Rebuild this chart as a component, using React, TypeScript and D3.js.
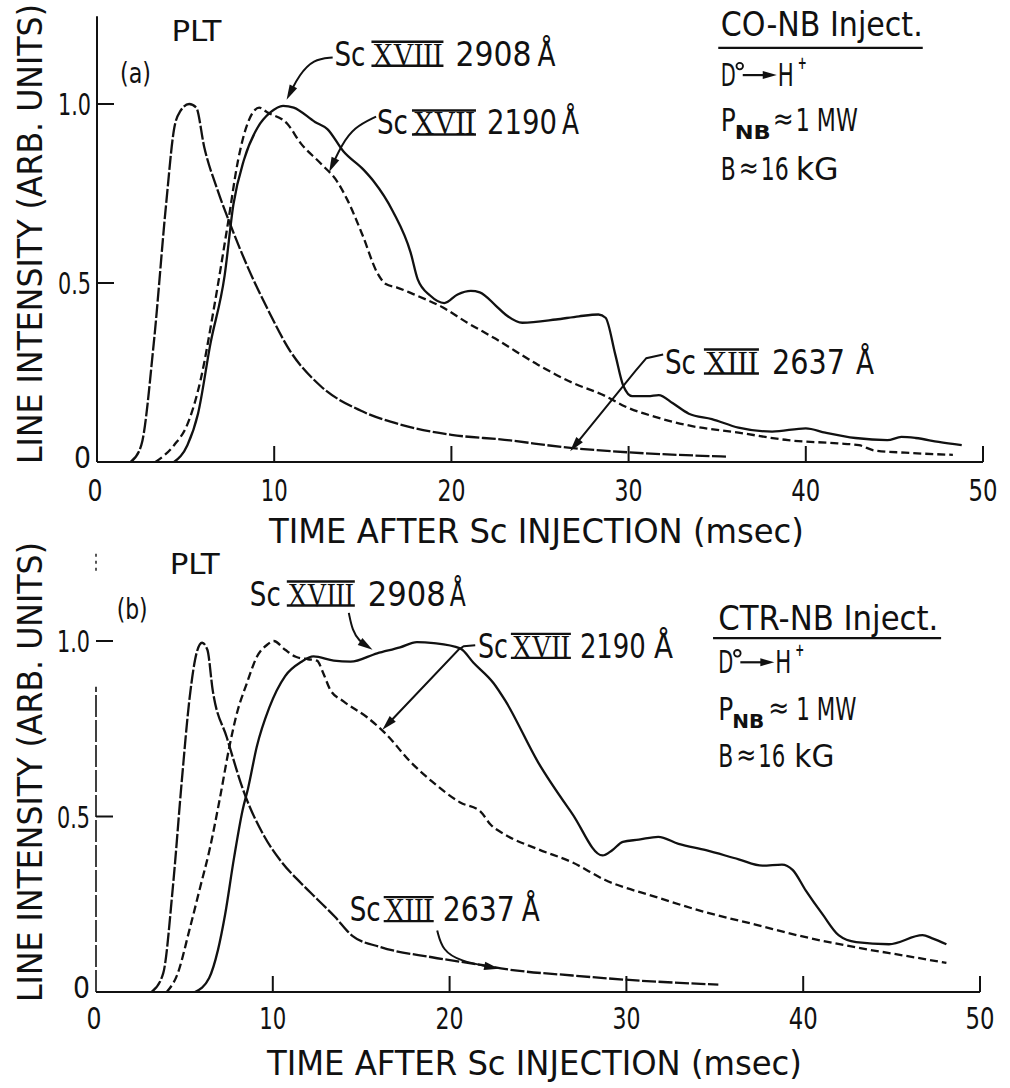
import React from 'react';
import * as d3 from 'd3';

// ---------- axes ----------
const ticksX = [0, 10, 20, 30, 40, 50];
const tickLabelsX = ['0', '10', '20', '30', '40', '50'];
const ticksY = [0, 0.5, 1.0];
const tickLabelsY = ['0', '0.5', '1.0'];
const xTitle = 'TIME AFTER Sc INJECTION (msec)';
const yTitle = 'LINE INTENSITY (ARB. UNITS)';

// ---------- panel (a) CO-NB ----------
const aXIII_t = [1.9, 2.5, 3.2, 3.9, 4.35, 4.7, 5.2, 5.6, 6.05, 6.8, 7.55, 8.5, 9.6, 10.9, 12.6, 14.9, 17.1, 20, 23, 26.6, 30, 35.5];
const aXIII_v = [0, 0.047, 0.33, 0.72, 0.93, 0.98, 1.0, 0.99, 0.88, 0.76, 0.66, 0.545, 0.43, 0.31, 0.213, 0.143, 0.105, 0.076, 0.062, 0.04, 0.027, 0.015];

const aXVII_t = [3.3, 4.35, 5.1, 5.85, 6.6, 7.4, 7.95, 8.3, 8.85, 9.15, 9.6, 10.75, 11.5, 12.6, 13.6, 14.1, 15.0, 15.8, 16.3, 16.9, 17.85, 19.5, 20.9, 22.5, 24.9, 26.8, 28.7, 29.8, 31.5, 33.4, 36.2, 39, 41.8, 43, 43.9, 45.6, 48.3];
const aXVII_v = [0, 0.047, 0.105, 0.23, 0.43, 0.67, 0.84, 0.915, 0.98, 0.99, 0.977, 0.944, 0.89, 0.835, 0.78, 0.735, 0.632, 0.53, 0.497, 0.488, 0.469, 0.432, 0.389, 0.344, 0.271, 0.222, 0.184, 0.155, 0.126, 0.102, 0.082, 0.061, 0.052, 0.047, 0.032, 0.026, 0.02];

const aXVIII_t = [4.35, 5.1, 5.7, 6.4, 7.2, 7.7, 8.3, 9.05, 9.8, 10.5, 11.1, 12.3, 13, 13.9, 15.05, 15.6, 16.7, 17.7, 18.1, 18.8, 19.6, 20.35, 21.1, 21.6, 22.5, 23.05, 24, 25.9, 27.2, 28.3, 28.7, 29.25, 29.7, 30.2, 31.1, 31.7, 32.5, 33.4, 34.7, 36.2, 38.1, 40, 41.1, 42.8, 44.6, 45.4, 46.2, 47.5, 48.8];
const aXVIII_v = [0, 0.047, 0.135, 0.33, 0.52, 0.72, 0.845, 0.933, 0.977, 0.995, 0.99, 0.95, 0.93, 0.868, 0.816, 0.785, 0.70, 0.585, 0.51, 0.465, 0.444, 0.468, 0.478, 0.474, 0.437, 0.412, 0.389, 0.398, 0.407, 0.412, 0.403, 0.30, 0.213, 0.184, 0.184, 0.187, 0.164, 0.135, 0.12, 0.096, 0.085, 0.094, 0.082, 0.067, 0.061, 0.07, 0.067, 0.056, 0.047];

// ---------- panel (b) CTR-NB ----------
const bXIII_t = [3.15, 3.8, 4.35, 4.85, 5.3, 5.7, 6.0, 6.3, 6.6, 7.4, 8.4, 9.5, 10.5, 11.6, 12.5, 13.5, 14.5, 16.1, 19.0, 21.8, 23.2, 26.95, 29.95, 35.2];
const bXIII_v = [0, 0.053, 0.30, 0.60, 0.84, 0.968, 0.995, 0.975, 0.86, 0.725, 0.565, 0.445, 0.37, 0.31, 0.265, 0.215, 0.16, 0.128, 0.099, 0.077, 0.065, 0.047, 0.035, 0.021];

const bXVII_t = [4.0, 4.6, 5.3, 5.9, 6.4, 7.0, 7.55, 8.0, 8.5, 9.1, 9.7, 10.05, 10.7, 11.3, 12.0, 12.5, 12.85, 13.25, 14.0, 15.35, 16.4, 17.8, 19.0, 20.6, 21.75, 22.3, 23.15, 25.0, 26.95, 28.8, 31.65, 34.5, 37.3, 40.15, 43, 45.8, 48.1];
const bXVII_v = [0, 0.05, 0.18, 0.30, 0.40, 0.55, 0.70, 0.80, 0.875, 0.955, 0.99, 1.0, 0.975, 0.955, 0.948, 0.944, 0.909, 0.861, 0.828, 0.782, 0.735, 0.655, 0.60, 0.54, 0.514, 0.478, 0.448, 0.407, 0.369, 0.319, 0.271, 0.227, 0.192, 0.156, 0.127, 0.103, 0.083];

const bXVIII_t = [5.6, 6.4, 6.9, 7.3, 7.8, 8.3, 8.6, 9.1, 9.8, 10.7, 11.6, 12.3, 13.45, 14.4, 15.9, 17.2, 18.15, 19.1, 20.6, 21.35, 22.5, 23.15, 25.0, 26.95, 28.65, 29.2, 29.8, 30.7, 31.8, 32.95, 34.5, 36.35, 37.7, 38.8, 39.4, 40.15, 41.1, 42.0, 43, 44.85, 46.75, 47.3, 48.1];
const bXVIII_v = [0, 0.04, 0.12, 0.22, 0.38, 0.52, 0.58, 0.70, 0.81, 0.90, 0.94, 0.956, 0.944, 0.941, 0.965, 0.982, 0.997, 0.994, 0.979, 0.938, 0.879, 0.83, 0.655, 0.507, 0.389, 0.404, 0.428, 0.434, 0.442, 0.422, 0.404, 0.378, 0.36, 0.363, 0.348, 0.289, 0.221, 0.162, 0.142, 0.136, 0.162, 0.153, 0.136];

const FONT = "'Liberation Sans Narrow','DejaVu Sans Condensed','Arial Narrow','Liberation Sans',sans-serif";
const SERIF = "'Liberation Serif','DejaVu Serif',serif";
const INK = '#111';

type Scale = d3.ScaleLinear<number, number>;

function zip(t: number[], v: number[]): [number, number][] {
  return t.map((d, i) => [d, v[i]]);
}

function Curve({ t, v, x, y, dash }: { t: number[]; v: number[]; x: Scale; y: Scale; dash?: string }) {
  const line = d3.line<[number, number]>().x(d => x(d[0])).y(d => y(d[1])).curve(d3.curveMonotoneX);
  return <path d={line(zip(t, v)) || ''} fill="none" stroke={INK} strokeWidth={2.3} strokeDasharray={dash} strokeLinejoin="round" />;
}

function Arrow({ pts, x, y, linear }: { pts: [number, number][]; x: Scale; y: Scale; linear?: boolean }) {
  const P = pts.map(p => [x(p[0]), y(p[1])] as [number, number]);
  const line = d3.line<[number, number]>().curve(linear ? d3.curveLinear : d3.curveBasis);
  const tip = P[P.length - 1];
  const prev = P[P.length - 2];
  const ang = Math.atan2(tip[1] - prev[1], tip[0] - prev[0]);
  const L = 15, W = 4.2;
  const bx = tip[0] - L * Math.cos(ang), by = tip[1] - L * Math.sin(ang);
  const nx = -Math.sin(ang), ny = Math.cos(ang);
  const head = `M${tip[0]},${tip[1]}L${bx + nx * W},${by + ny * W}L${bx - nx * W},${by - ny * W}Z`;
  const shaft = P.slice(0, -1).concat([[tip[0] - 8 * Math.cos(ang), tip[1] - 8 * Math.sin(ang)]]);
  return (
    <g>
      <path d={line(shaft) || ''} fill="none" stroke={INK} strokeWidth={2} />
      <path d={head} fill={INK} />
    </g>
  );
}

function Txt({ x, y, s, size, w, family = FONT, anchor = 'start', weight = 'normal' }: any) {
  return (
    <text x={x} y={y} fontSize={size} fontFamily={family} fill={INK} textAnchor={anchor} fontWeight={weight}
      textLength={w} lengthAdjust="spacingAndGlyphs">{s}</text>
  );
}

// Ion label: "Sc <numeral with bars> <wavelength> Å"
function IonLabel({ x0, y0, numeral, wave, o }: { x0: number; y0: number; numeral: string; wave: string; o: number[] }) {
  const [scW, nX, nW, wX, wW, aX, aW] = o;
  const cap = 24;
  return (
    <g>
      <Txt x={x0} y={y0} s="Sc" size={33} w={scW} />
      <Txt x={x0 + nX} y={y0} s={numeral} size={34} w={nW} family={SERIF} />
      <line x1={x0 + nX - 1} x2={x0 + nX + nW + 1} y1={y0 - cap} y2={y0 - cap} stroke={INK} strokeWidth={2.4} />
      <line x1={x0 + nX - 1} x2={x0 + nX + nW + 1} y1={y0} y2={y0} stroke={INK} strokeWidth={2.4} />
      <Txt x={x0 + wX} y={y0} s={wave} size={33} w={wW} />
      <Txt x={x0 + aX} y={y0} s="Å" size={33} w={aW} />
    </g>
  );
}

function Conditions({ x0, ys, head, headW, ul, o }: any) {
  // ys: baselines of four lines (px); ul: [x1, x2, y]
  return (
    <g>
      <Txt x={x0} y={ys[0]} s={head} size={33} w={headW} />
      <line x1={ul[0]} x2={ul[1]} y1={ul[2]} y2={ul[2]} stroke={INK} strokeWidth={2.2} />
      {/* D° -> H+ */}
      <Txt x={x0} y={ys[1]} s="D" size={32} w={15} />
      <circle cx={x0 + 19} cy={ys[1] - 20} r={3.3} fill="none" stroke={INK} strokeWidth={1.8} />
      <line x1={x0 + 22} x2={x0 + 44} y1={ys[1] - 11} y2={ys[1] - 11} stroke={INK} strokeWidth={2.2} />
      <path d={`M${x0 + 56},${ys[1] - 11}L${x0 + 42},${ys[1] - 15}L${x0 + 42},${ys[1] - 7}Z`} fill={INK} />
      <Txt x={x0 + 57} y={ys[1]} s="H" size={32} w={16} />
      <Txt x={x0 + 77} y={ys[1] - 17} s="+" size={17} w={9} weight="bold" />
      {/* P_NB ≈ 1 MW */}
      <Txt x={x0} y={ys[2]} s="P" size={32} w={15} />
      <Txt x={x0 + 14} y={ys[2] + 8} s="NB" size={20} w={o[0]} weight="bold" />
      <Txt x={x0 + o[1]} y={ys[2] - 2} s="≈" size={30} w={21} />
      <Txt x={x0 + o[2]} y={ys[2]} s="1 MW" size={32} w={o[3]} />
      {/* B ≈ 16 kG */}
      <Txt x={x0} y={ys[3]} s="B" size={32} w={15} />
      <Txt x={x0 + 18} y={ys[3] - 2} s="≈" size={30} w={20} />
      <Txt x={x0 + o[4]} y={ys[3]} s="16" size={32} w={o[5]} />
      <Txt x={x0 + o[6]} y={ys[3]} s="kG" size={32} w={o[7]} />
    </g>
  );
}

function Axes({ x, y, yTop, dashedY }: { x: Scale; y: Scale; yTop: number; dashedY?: boolean }) {
  const y0 = y(0);
  return (
    <g stroke={INK} strokeWidth={2}>
      <line x1={x(0)} x2={x(50)} y1={y0} y2={y0} />
      {dashedY ? (
        <g>
          <line x1={x(0)} x2={x(0)} y1={y0} y2={y(0.87)} strokeDasharray="22 3" strokeWidth={1.6} />
          <line x1={x(0)} x2={x(0)} y1={y(1.2)} y2={y(yTop)} strokeDasharray="3 4" strokeWidth={1.4} />
        </g>
      ) : (
        <line x1={x(0)} x2={x(0)} y1={y0} y2={y(yTop)} />
      )}
      {ticksX.slice(1).map(t => (
        <line key={t} x1={x(t)} x2={x(t)} y1={y0} y2={y0 - 16} />
      ))}
      {ticksY.slice(1).map(t => (
        <line key={t} x1={x(0)} x2={x(0) + 17} y1={y(t)} y2={y(t)} />
      ))}
    </g>
  );
}

function AxisText({ x, y, labelDy, titleDy, titleY }: { x: Scale; y: Scale; labelDy: number; titleDy: number; titleY: number }) {
  const y0 = y(0);
  const xw = [15, 27, 28, 28, 29, 29];
  return (
    <g>
      {ticksX.map((t, i) => (
        <Txt key={t} x={x(t) - (i === 0 ? 2 : 0)} y={y0 + labelDy} s={tickLabelsX[i]} size={31} w={xw[i]} anchor="middle" />
      ))}
      {ticksY.map((t, i) => (
        <Txt key={t} x={x(0) - 6} y={y(t) + (i === 0 ? 6 : 11)} s={tickLabelsY[i]} size={31} w={i === 0 ? 17 : 33} anchor="end" />
      ))}
      <Txt x={x(24.8)} y={y0 + titleDy} s={xTitle} size={34} w={535} anchor="middle" />
      <g transform={`translate(42,${titleY}) rotate(-90)`}>
        <Txt x={0} y={0} s={yTitle} size={34} w={460} anchor="middle" />
      </g>
    </g>
  );
}

export default function App() {
  const xA = d3.scaleLinear().domain([0, 50]).range([97, 983]);
  const yA = d3.scaleLinear().domain([0, 1]).range([462, 104]);
  const xB = d3.scaleLinear().domain([0, 50]).range([96, 980]);
  const yB = d3.scaleLinear().domain([0, 1]).range([992, 641]);

  return (
    <svg width={1010} height={1088} style={{ position: 'absolute', left: 0, top: 0, background: '#fff' }}>
      <rect width={1010} height={1088} fill="#fff" />
      {/* ---------------- panel (a) ---------------- */}
      <Axes x={xA} y={yA} yTop={1.245} />
      <AxisText x={xA} y={yA} labelDy={39} titleDy={81} titleY={234} />
      <Curve t={aXIII_t} v={aXIII_v} x={xA} y={yA} dash="14 2.5" />
      <Curve t={aXVII_t} v={aXVII_v} x={xA} y={yA} dash="8 4" />
      <Curve t={aXVIII_t} v={aXVIII_v} x={xA} y={yA} />
      <Txt x={xA(4.2)} y={yA(1.175)} s="PLT" size={29} w={50} />
      <Txt x={xA(1.3)} y={yA(1.06)} s="(a)" size={29} w={31} />
      <IonLabel x0={xA(13.4)} y0={yA(1.107)} numeral="XVIII" wave="2908" o={[31, 38, 70, 121, 76, 203, 18]} />
      <Arrow x={xA} y={yA} pts={[[13.3, 1.13], [12.2, 1.125], [11.4, 1.08], [10.7, 1.012]]} />
      <IonLabel x0={xA(15.8)} y0={yA(0.915)} numeral="XVII" wave="2190" o={[31, 36, 62, 110, 70, 185, 17]} />
      <Arrow x={xA} y={yA} pts={[[15.75, 0.965], [14.5, 0.935], [13.8, 0.885], [13.1, 0.81]]} />
      <IonLabel x0={xA(32.05)} y0={yA(0.247)} numeral="XIII" wave="2637" o={[31, 40, 53, 107, 73, 191, 18]} />
      <Arrow x={xA} y={yA} linear pts={[[31.95, 0.3], [31.0, 0.29], [30.4, 0.255], [26.7, 0.03]]} />
      <Conditions x0={xA(35.2)} ys={[yA(1.19), yA(1.05), yA(0.924), yA(0.787)]} head="CO-NB  Inject." headW={202}
        ul={[xA(35.06), xA(46.6), yA(1.157)]} o={[36, 52, 75, 62, 40, 28, 75, 43]} />

      {/* ---------------- panel (b) ---------------- */}
      <Axes x={xB} y={yB} yTop={1.25} dashedY />
      <AxisText x={xB} y={yB} labelDy={37} titleDy={83} titleY={772} />
      <Curve t={bXIII_t} v={bXIII_v} x={xB} y={yB} dash="14 2.5" />
      <Curve t={bXVII_t} v={bXVII_v} x={xB} y={yB} dash="8 4" />
      <Curve t={bXVIII_t} v={bXVIII_v} x={xB} y={yB} />
      <Txt x={xB(4.17)} y={yB(1.19)} s="PLT" size={29} w={50} />
      <Txt x={xB(1.17)} y={yB(1.062)} s="(b)" size={29} w={31} />
      <IonLabel x0={xB(8.7)} y0={yB(1.101)} numeral="XVIII" wave="2908" o={[31, 38, 66, 118, 78, 200, 16]} />
      <Arrow x={xB} y={yB} pts={[[14.3, 1.08], [14.5, 1.03], [14.9, 1.0], [15.64, 0.975]]} />
      <IonLabel x0={xB(21.6)} y0={yB(0.952)} numeral="XVII" wave="2190" o={[30, 34, 58, 102, 66, 176, 19]} />
      <Arrow x={xB} y={yB} linear pts={[[21.45, 0.988], [20.8, 0.985], [20.5, 0.975], [16.2, 0.747]]} />
      <IonLabel x0={xB(14.35)} y0={yB(0.202)} numeral="XIII" wave="2637" o={[31, 35, 48, 93, 72, 172, 18]} />
      <Arrow x={xB} y={yB} pts={[[19.3, 0.175], [19.6, 0.118], [20.6, 0.088], [22.8, 0.066]]} />
      <Conditions x0={xB(35.2)} ys={[yB(1.03), yB(0.908), yB(0.775), yB(0.642)]} head="CTR-NB  Inject." headW={220}
        ul={[xB(34.9), xB(47.8), yB(1.008)]} o={[32, 50, 78, 60, 40, 27, 76, 40]} />
    </svg>
  );
}
